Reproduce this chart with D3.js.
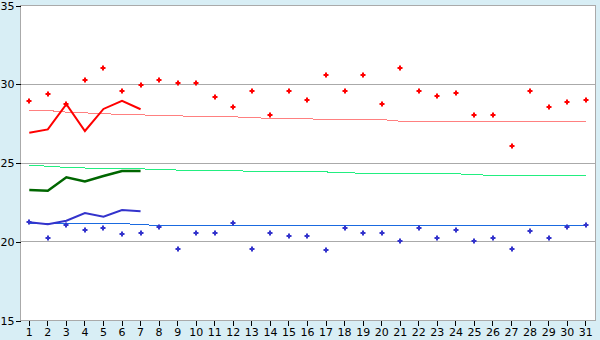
<!DOCTYPE html>
<html>
<head>
<meta charset="utf-8">
<script src="https://cdn.jsdelivr.net/npm/d3@7"></script>
<style>
	body { margin: 0; background: #d8eef5; }
	svg { display: block; }
	text { font-family: "DejaVu Sans", Verdana, sans-serif; font-size: 11px; fill: #000; }
</style>
</head>
<body>
<div class="chart"></div>
<script>
// chart data
var days = d3.range(1, 32);
var yTicks = [15, 20, 25, 30, 35];

var maxPoints = [28.9, 29.33, 28.7, 30.22, 30.98, 29.54, 29.9, 30.22, 30.03, 30.03,
	29.14, 28.5, 29.52, 28.0, 29.52, 29.0, 30.53, 29.52, 30.53, 28.7,
	31.0, 29.52, 29.2, 29.39, 28.0, 28.0, 26.03, 29.52, 28.5, 28.82, 29.0];
var minPoints = [21.22, 20.19, 21.01, 20.69, 20.82, 20.44, 20.5, 20.9, 19.49, 20.5,
	20.5, 21.14, 19.49, 20.5, 20.31, 20.31, 19.43, 20.82, 20.5, 20.5,
	20.0, 20.82, 20.19, 20.69, 20.0, 20.19, 19.49, 20.63, 20.19, 20.89, 21.01];

var maxAvg = [26.89, 27.1, 28.7, 27.0, 28.4, 28.92, 28.38];
var meanAvg = [23.25, 23.21, 24.06, 23.8, 24.14, 24.46, 24.46];
var minAvg = [21.2, 21.08, 21.3, 21.79, 21.56, 21.98, 21.9];

var maxNormal = [28.33, 28.3, 28.2, 28.15, 28.1, 28.05, 28.02, 28.0, 27.96, 27.93,
	27.93, 27.9, 27.85, 27.8, 27.8, 27.77, 27.74, 27.74, 27.74, 27.73,
	27.62, 27.6, 27.6, 27.6, 27.6, 27.6, 27.6, 27.6, 27.6, 27.6, 27.6];
var meanNormal = [24.84, 24.76, 24.69, 24.65, 24.63, 24.62, 24.6, 24.55, 24.52, 24.5,
	24.5, 24.47, 24.45, 24.44, 24.44, 24.44, 24.4, 24.35, 24.32, 24.31,
	24.31, 24.31, 24.31, 24.29, 24.22, 24.19, 24.19, 24.19, 24.19, 24.19, 24.19];
var minNormal = [21.14, 21.14, 21.14, 21.14, 21.14, 21.14, 21.04, 21.02, 21.02, 21.02,
	21.02, 21.02, 21.02, 21.02, 21.02, 21.02, 21.02, 21.02, 21.02, 21.02,
	21.02, 21.02, 21.02, 21.02, 21.02, 21.02, 21.02, 21.02, 21.02, 21.02, 21.02];

// sizes
var width = 600,
	height = 340,
	plot = {left: 20, right: 595, top: 5, bottom: 320};

var svg = d3.select(".chart").append("svg")
	.attr("width", width)
	.attr("height", height);

var x = d3.scaleBand().domain(days).range([plot.left, plot.right]);
var y = d3.scaleLinear().domain([15, 35]).range([plot.bottom, plot.top]);
var cx = function(d) { return x(d) + x.bandwidth() / 2; };

// plot background
svg.append("rect")
	.attr("x", plot.left).attr("y", plot.top)
	.attr("width", plot.right - plot.left).attr("height", plot.bottom - plot.top)
	.attr("fill", "#fff");

// grid lines
svg.selectAll(".grid").data(yTicks.slice(1))
	.enter().append("line")
	.attr("x1", plot.left).attr("x2", plot.right)
	.attr("y1", function(d) { return y(d) + 0.5; })
	.attr("y2", function(d) { return y(d) + 0.5; })
	.attr("stroke", "#aaa")
	.attr("shape-rendering", "crispEdges");

// frame
svg.append("path")
	.attr("d", "M" + (plot.left + 0.5) + "," + plot.top + "V" + (plot.bottom + 0.5) +
		"H" + (plot.right + 0.5) + "V" + plot.top)
	.attr("fill", "none")
	.attr("stroke", "#aaa")
	.attr("shape-rendering", "crispEdges");

// y axis
var yAxis = svg.append("g")
	.attr("transform", "translate(" + (plot.left + 0.5) + ",0.5)")
	.call(d3.axisLeft(y).tickValues(yTicks).tickSize(5).tickPadding(1));
yAxis.select(".domain").remove();
yAxis.selectAll("line").attr("stroke", "#000").attr("shape-rendering", "crispEdges");
yAxis.selectAll("text").style("font-size", "11px").attr("font-family", null);

// x axis
var xAxis = svg.append("g")
	.attr("transform", "translate(0," + (plot.bottom + 0.5) + ")")
	.call(d3.axisBottom(x).tickSize(5).tickPadding(3));
xAxis.select(".domain").remove();
xAxis.selectAll("line").attr("stroke", "#000").attr("shape-rendering", "crispEdges");
xAxis.selectAll("text").style("font-size", "11px").attr("font-family", null);

// draw a series as a line through the day centres
function drawLine(values, color, w, crisp) {
	var line = d3.line()
		.x(function(d, i) { return cx(days[i]); })
		.y(function(d) { return y(d); });
	svg.append("path")
		.datum(values)
		.attr("d", line)
		.attr("fill", "none")
		.attr("stroke", color)
		.attr("stroke-width", w)
		.attr("shape-rendering", crisp ? "crispEdges" : "auto");
}

// normal lines (thin)
drawLine(maxNormal, "#ff8080", 1, true);
drawLine(meanNormal, "#22ee80", 1, true);
drawLine(minNormal, "#1a6ae0", 1, true);

// running averages (thick)
drawLine(maxAvg, "#ff0000", 2, false);
drawLine(meanAvg, "#006600", 2.5, false);
drawLine(minAvg, "#3333cc", 2, false);

// point markers
var marker = "M-1,-2.5h2v1.5h1.5v2h-1.5v1.5h-2v-1.5h-1.5v-2h1.5z";

function drawPoints(values, color) {
	svg.append("g").selectAll("path")
		.data(values)
		.enter().append("path")
		.attr("d", marker)
		.attr("transform", function(d, i) {
			return "translate(" + Math.round(cx(days[i])) + "," + Math.round(y(d)) + ")";
		})
		.attr("fill", color);
}

drawPoints(maxPoints, "#ff0000");
drawPoints(minPoints, "#3333cc");
</script>
</body>
</html>
